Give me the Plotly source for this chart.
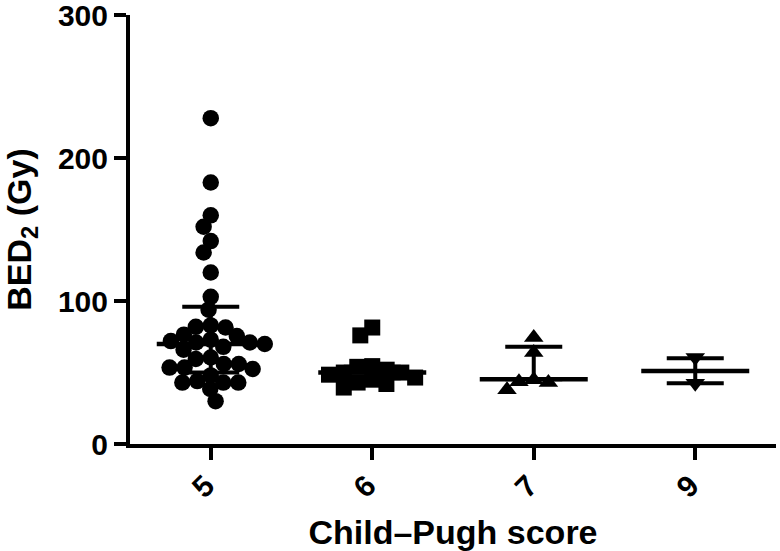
import numpy as np
import plotly.graph_objects as go

# ---------------- data ----------------
categories = ["5", "6", "7", "9"]

bed_cp5 = [228, 183, 160, 152, 142, 134, 120, 103, 94,
           83, 82, 81.5, 76.5, 75.5, 73, 72, 71, 71, 70, 68, 66,
           60.5, 59.5, 56, 56, 53.5, 53.5, 52.5, 48, 44, 43, 43, 43, 38.5, 30]
bed_cp6 = [81.5, 76, 54.5, 54, 52, 50, 50, 48.5, 46.5, 45, 43, 42, 39.5]
bed_cp7 = [74.5, 64, 45, 43.5, 43, 38]
bed_cp9 = [60.5, 42.5]

median_vals = [70, 50, 45.3, 51]
q1_vals = [50, 46, 45.3, 42.5]
q3_vals = [96, 54, 68, 60]

groups = [bed_cp5, bed_cp6, bed_cp7, bed_cp9]
symbols = ["circle", "square", "triangle-up", "triangle-down"]
sizes = [16.5, 16, 17, 17]

# ---------------- layout geometry ----------------
W, H = 780, 551
ML, MR, MT, MB = 130, 4, 15, 107
plot_w = W - ML - MR
plot_h = H - MT - MB
X_RANGE = [-0.5, 3.5]
Y_RANGE = [0, 300.2]
px_per_x = plot_w / (X_RANGE[1] - X_RANGE[0])
px_per_y = plot_h / (Y_RANGE[1] - Y_RANGE[0])


def swarm_offsets(vals, ax, by):
    """Beeswarm with an elliptical keep-out zone; returns px offsets."""
    vals = np.asarray(vals, dtype=float)
    order = np.argsort(-vals)
    placed = []
    offs = np.zeros(len(vals))
    for i in order:
        y = vals[i] * px_per_y
        cands = [0.0]
        for xj, yj in placed:
            dy = abs(y - yj)
            if dy < by:
                w = ax * np.sqrt(1 - (dy / by) ** 2)
                cands += [xj - w, xj + w]

        def ok(x):
            return all(((x - xj) / ax) ** 2 + ((y - yj) / by) ** 2 >= 1 - 1e-6
                       for xj, yj in placed)

        valid = [c for c in cands if ok(c)]
        best = min(valid, key=lambda c: (round(abs(c), 6), c))
        offs[i] = best
        placed.append((best, y))
    return offs


fig = go.Figure()

for gi, vals in enumerate(groups):
    offs = swarm_offsets(vals, 15, 13)
    xs = gi + offs / px_per_x
    fig.add_trace(go.Scatter(
        x=xs, y=vals, mode="markers",
        marker=dict(symbol=symbols[gi], size=sizes[gi], color="black",
                    line=dict(width=0)),
        showlegend=False, hoverinfo="y",
    ))

# median lines
half_med = 54 / px_per_x
mx, my = [], []
for gi, m in enumerate(median_vals):
    mx += [gi - half_med, gi + half_med, None]
    my += [m, m, None]
fig.add_trace(go.Scatter(x=mx, y=my, mode="lines",
                         line=dict(color="black", width=4.5),
                         showlegend=False, hoverinfo="skip"))

# interquartile range error bars
fig.add_trace(go.Scatter(
    x=list(range(len(categories))), y=median_vals, mode="markers",
    marker=dict(size=1, color="rgba(0,0,0,0)"),
    error_y=dict(type="data", symmetric=False,
                 array=[q3 - m for q3, m in zip(q3_vals, median_vals)],
                 arrayminus=[m - q1 for q1, m in zip(q1_vals, median_vals)],
                 width=28.5, thickness=4, color="black"),
    showlegend=False, hoverinfo="skip",
))

FONT = "Liberation Sans, Arial, Helvetica, sans-serif"

fig.update_layout(
    width=W, height=H,
    margin=dict(l=ML, r=MR, t=MT, b=MB, autoexpand=False),
    plot_bgcolor="white", paper_bgcolor="white",
    font=dict(family=FONT, color="black", weight="bold"),
    xaxis=dict(
        range=X_RANGE, tickmode="array",
        tickvals=list(range(len(categories))), ticktext=categories,
        tickangle=-45, tickfont=dict(size=30, family=FONT, weight="bold"),
        ticklabelshift=-5, ticklabelstandoff=-4,
        ticks="outside", ticklen=12, tickwidth=4, tickcolor="black",
        showline=True, linewidth=4, linecolor="black",
        showgrid=False, zeroline=False, automargin=False,
        ticklabeloverflow="allow",
        title=dict(text="Child\u2013Pugh score",
                   font=dict(size=34, family=FONT, weight="bold"),
                   standoff=21),
    ),
    yaxis=dict(
        range=Y_RANGE, tickmode="array", tickvals=[0, 100, 200, 300],
        tickfont=dict(size=30, family=FONT, weight="bold"),
        ticks="outside", ticklen=12, tickwidth=4, tickcolor="black",
        showline=True, linewidth=4, linecolor="black",
        showgrid=False, zeroline=False, automargin=False,
        ticklabeloverflow="allow",
        title=dict(text="BED<sub>2</sub> (Gy)",
                   font=dict(size=34, family=FONT, weight="bold"),
                   standoff=22),
    ),
)

fig.write_html("out.html", config={"displayModeBar": False},
               post_script="document.body.style.margin='0px';")
